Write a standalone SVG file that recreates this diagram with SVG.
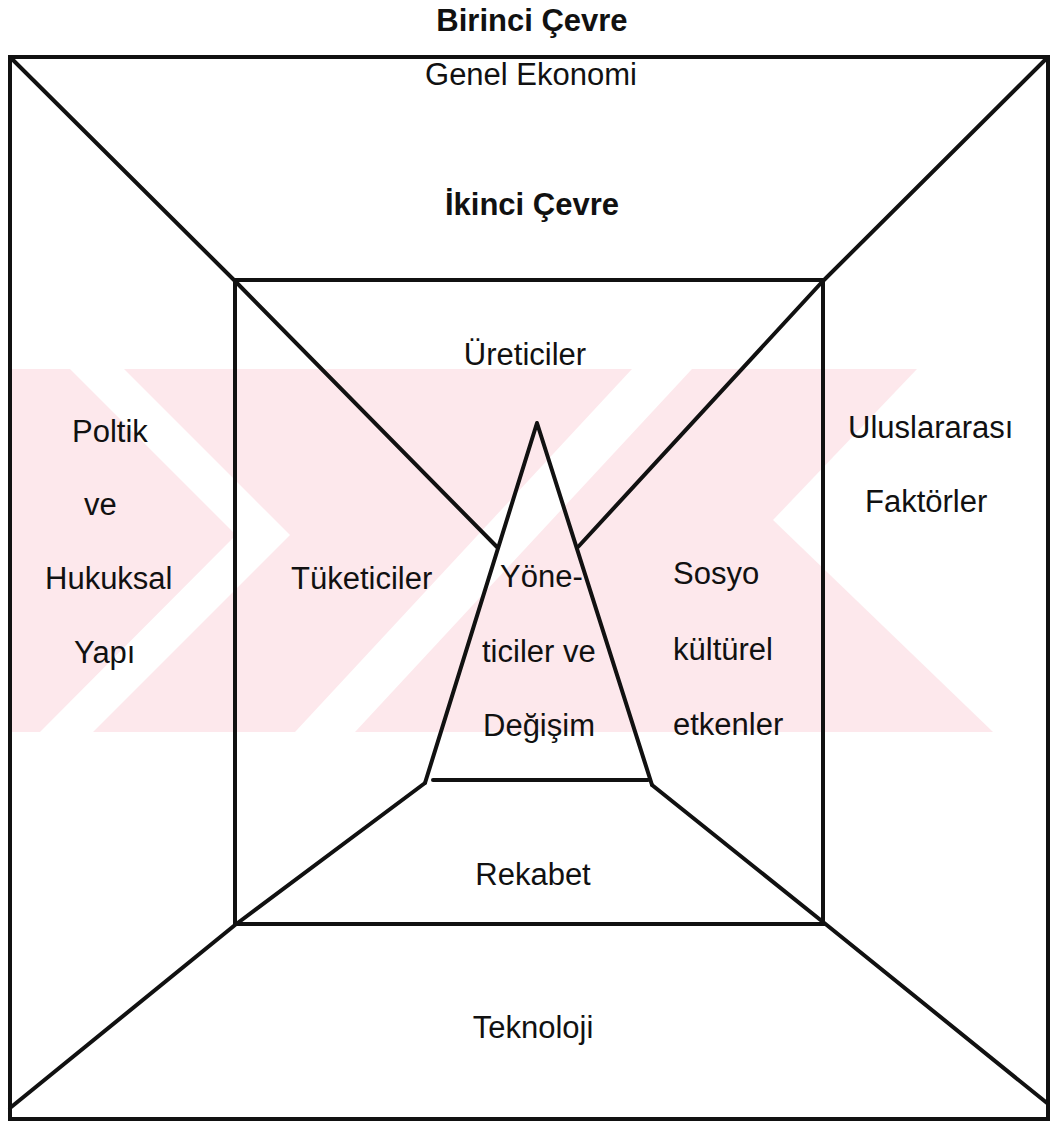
<svg xmlns="http://www.w3.org/2000/svg" width="1052" height="1123" viewBox="0 0 1052 1123">
<style>
.t{font-family:"Liberation Sans",Arial,sans-serif;font-size:31px;fill:#111}
.b{font-weight:bold}
.c{text-anchor:middle}
.box{fill:none;stroke:#111;stroke-width:4}
.ln{fill:none;stroke:#111;stroke-width:4;stroke-linejoin:round;stroke-linecap:round}
.wm{fill:#fde8ec;stroke:none}
.wc{fill:#fff;stroke:none}
</style>
<rect width="1052" height="1123" fill="#fff"/>
<g id="watermark">
<rect class="wm" x="10" y="369" width="990" height="363"/>
<polygon class="wc" points="70,369 124,369 290,535 93,732 40,732 236,535"/>
<polygon class="wc" points="632,369 692,369 355,732 295,732"/>
<polygon class="wc" points="917,369 1001,369 1001,732 993,732 773,520"/>
</g>
<g id="outer">
<rect class="box" x="10" y="57" width="1038" height="1062"/>
<text class="t b c" x="532" y="31">Birinci Çevre</text>
<text class="t c" x="531" y="85">Genel Ekonomi</text>
<text class="t b c" x="532" y="215">İkinci Çevre</text>
<text class="t" x="72" y="442">Poltik</text>
<text class="t" x="84" y="515">ve</text>
<text class="t" x="45" y="589">Hukuksal</text>
<text class="t" x="74" y="663">Yapı</text>
<text class="t" x="848" y="438">Uluslararası</text>
<text class="t" x="865" y="512">Faktörler</text>
<text class="t c" x="533" y="1038">Teknoloji</text>
</g>
<g id="inner">
<rect class="box" x="235" y="280" width="588" height="644" stroke-width="3"/>
<text class="t c" x="525" y="365">Üreticiler</text>
<text class="t" x="291" y="589">Tüketiciler</text>
<text class="t" x="673" y="584">Sosyo</text>
<text class="t" x="673" y="660">kültürel</text>
<text class="t" x="673" y="735">etkenler</text>
<text class="t c" x="533" y="885">Rekabet</text>
</g>
<g id="triangle">
<polyline class="ln" points="425,783 537,423 652,785"/>
<line class="ln" x1="433" y1="780" x2="648" y2="780"/>
<text class="t" x="500" y="587">Yöne-</text>
<text class="t" x="482" y="662">ticiler ve</text>
<text class="t" x="483" y="736">Değişim</text>
</g>
<g id="connectors">
<polyline class="ln" points="11,58 235,281 497,547"/>
<polyline class="ln" points="1047,58 822,282 578,547"/>
<polyline class="ln" points="425,783 235,925 10,1108"/>
<polyline class="ln" points="652,785 823,922 1047,1103"/>
</g>
</svg>
